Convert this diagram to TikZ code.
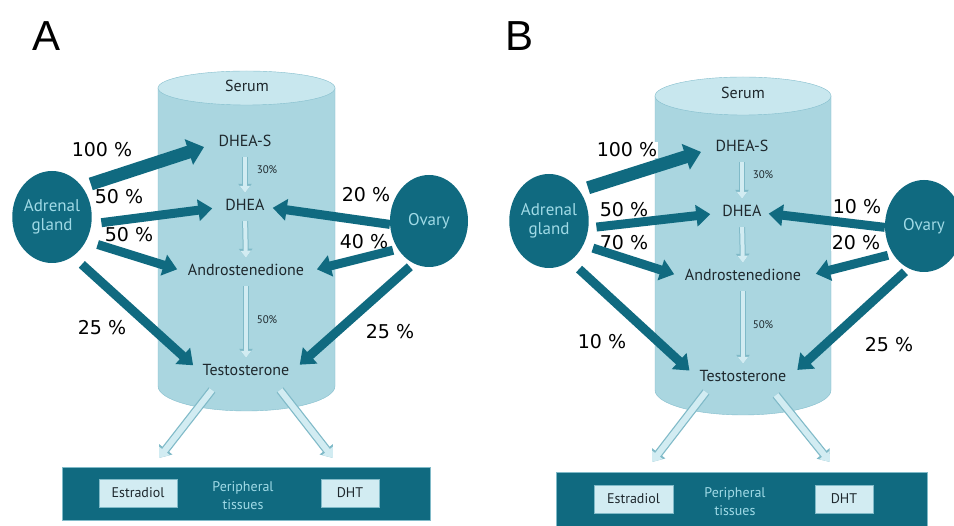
\documentclass[tikz,border=0pt]{standalone}
\usepackage{fontspec}
\setmainfont{DejaVu Sans}
\newfontfamily\lblfont{PT Sans}
\newfontfamily\headfont{Liberation Sans}
\usetikzlibrary{arrows.meta,shapes.geometric}
\definecolor{darkteal}{RGB}{16,106,128}
\definecolor{serumblue}{RGB}{170,214,224}
\definecolor{serumtop}{RGB}{200,231,238}
\definecolor{serumline}{RGB}{132,190,205}
\definecolor{palefill}{RGB}{210,236,242}
\definecolor{paleline}{RGB}{128,186,200}
\definecolor{tealtext}{RGB}{160,218,230}
\definecolor{moltext}{RGB}{30,40,45}

\begin{document}
\begin{tikzpicture}[x=1pt,y=-1pt,
  pct/.style={font=\fontsize{19}{22}\selectfont, fill=white, inner sep=1pt},
  mol/.style={font=\lblfont\fontsize{16}{18}\selectfont, text=moltext, inner sep=2pt, text height=11pt, text depth=3pt},
  small/.style={font=\lblfont\fontsize{11}{12}\selectfont, text=moltext},
  organ/.style={ellipse, fill=darkteal, inner sep=0pt, minimum width=78pt, minimum height=92pt, text=tealtext, align=center, font=\lblfont\fontsize{17}{19}\selectfont},
  bigarr/.style={draw=darkteal, line width=9pt, -{Triangle[length=14pt,width=21pt]}},
  hugearr/.style={draw=darkteal, line width=13pt, -{Triangle[length=16pt,width=26pt]}},
  hollowarr/.style={draw=palefill, line width=4pt, shorten <=5pt, shorten >=5pt, -{Triangle[length=7pt,width=10pt]},
    preaction={draw=paleline, line width=6pt, -{Triangle[length=9pt,width=13pt]}}},
  outarr/.style={draw=palefill, line width=6pt, -{Triangle[length=9pt,width=13pt]},
    preaction={draw=paleline, line width=8.5pt, -{Triangle[length=11pt,width=16pt]}}},
  tissue/.style={fill=darkteal, draw=paleline, line width=0.6pt, inner sep=0pt},
  tbox/.style={fill=palefill, draw=paleline, line width=0.8pt, inner sep=0pt, minimum height=28pt, text=moltext, font=\lblfont\fontsize{14}{15}\selectfont},
  tlabel/.style={text=tealtext, align=center, font=\lblfont\fontsize{14}{18}\selectfont}]
\useasboundingbox (0,0) rectangle (954,526);
\fill[white] (0,0) rectangle (954,526);
\clip (0,0) rectangle (954,526);

% panel labels
\node[font=\headfont\fontsize{42}{42}\selectfont] (labA) at (47,36) {A};
\node[font=\headfont\fontsize{42}{42}\selectfont] (labB) at (520,36) {B};

% serum cylinder A
\fill[serumblue] (158,88) -- (158,386) arc[start angle=180, end angle=360, x radius=88.5pt, y radius=25pt] -- (335,88) -- cycle;
\draw[serumline] (158,88) -- (158,386) arc[start angle=180, end angle=360, x radius=88.5pt, y radius=25pt] -- (335,88);
\filldraw[fill=serumtop, draw=serumline] (246.5,88) ellipse[x radius=88.5pt, y radius=17pt];

% serum cylinder B
\fill[serumblue] (655,96) -- (655,390) arc[start angle=180, end angle=360, x radius=88pt, y radius=25pt] -- (831,96) -- cycle;
\draw[serumline] (655,96) -- (655,390) arc[start angle=180, end angle=360, x radius=88pt, y radius=25pt] -- (831,96);
\filldraw[fill=serumtop, draw=serumline] (743,96) ellipse[x radius=88pt, y radius=19pt];

% molecules A
\node[mol] (serumA) at (247,88) {Serum};
\node[mol] (dheasA) at (245,143) {DHEA-S};
\node[mol] (dheaA) at (245,207) {DHEA};
\node[mol] (androA) at (246,272) {Androstenedione};
\node[mol] (testoA) at (246,372) {Testosterone};
\node[small] (convA1) at (267,170) {30\%};
\node[small] (convA2) at (267,320) {50\%};

% molecules B
\node[mol] (serumB) at (743,95) {Serum};
\node[mol] (dheasB) at (742,148) {DHEA-S};
\node[mol] (dheaB) at (742,213) {DHEA};
\node[mol] (androB) at (743,277) {Androstenedione};
\node[mol] (testoB) at (743,378) {Testosterone};
\node[small] (convB1) at (763,175) {30\%};
\node[small] (convB2) at (763,325) {50\%};

% conversions inside serum
\draw[hollowarr] (dheasA.south) -- (dheaA.north);
\draw[hollowarr] (dheaA.south) -- (androA.north);
\draw[hollowarr] (androA.south) -- (testoA.north);
\draw[hollowarr] (dheasB.south) -- (dheaB.north);
\draw[hollowarr] (dheaB.south) -- (androB.north);
\draw[hollowarr] (androB.south) -- (testoB.north);

% organs
\node[organ] (adrA) at (52,217) {Adrenal\\gland};
\node[organ] (ovA) at (429,221) {Ovary};
\node[organ, minimum height=94pt] (adrB) at (549,221) {Adrenal\\gland};
\node[organ] (ovB) at (924,226) {Ovary};

% percentages A
\node[pct] (pA1) at (102,150) {100 \%};
\node[pct] (pA2) at (119,197) {50 \%};
\node[pct] (pA3) at (129,235) {50 \%};
\node[pct] (pA4) at (102,328) {25 \%};
\node[pct] (pA5) at (366,195) {20 \%};
\node[pct] (pA6) at (364,242) {40 \%};
\node[pct] (pA7) at (390,332) {25 \%};

% percentages B
\node[pct] (pB1) at (627,150) {100 \%};
\node[pct] (pB2) at (624,210) {50 \%};
\node[pct] (pB3) at (624,243) {70 \%};
\node[pct] (pB4) at (602,342) {10 \%};
\node[pct] (pB5) at (857,207) {10 \%};
\node[pct] (pB6) at (856,243) {20 \%};
\node[pct] (pB7) at (889,345) {25 \%};

% secretion A
\draw[hugearr, shorten <=9pt, shorten >=13pt] (adrA.45) -- (dheasA.west);
\draw[bigarr, shorten <=10pt, shorten >=11pt] (adrA.-10) -- (dheaA.west);
\draw[bigarr, shorten <=12pt, shorten >=9pt] (adrA.-35) -- (androA.west);
\draw[bigarr, shorten <=12pt, shorten >=10pt] (adrA.-62) -- (testoA.west);
\draw[bigarr, shorten >=6pt] (ovA.185) -- (dheaA.east);
\draw[bigarr, shorten <=5pt, shorten >=11pt] (ovA.222) -- (androA.east);
\draw[bigarr, shorten <=5pt, shorten >=11pt] (ovA.250) -- (testoA.east);

% secretion B
\draw[hugearr, shorten <=9pt, shorten >=13pt] (adrB.45) -- (dheasB.west);
\draw[bigarr, shorten <=8pt, shorten >=10pt] (adrB.-10) -- (dheaB.west);
\draw[bigarr, shorten <=10pt, shorten >=9pt] (adrB.-35) -- (androB.west);
\draw[bigarr, shorten <=12pt, shorten >=11pt] (adrB.-62) -- (testoB.west);
\draw[bigarr, shorten >=5pt] (ovB.182) -- (dheaB.east);
\draw[bigarr, shorten <=5pt, shorten >=13pt] (ovB.222) -- (androB.east);
\draw[bigarr, shorten <=5pt, shorten >=12pt] (ovB.250) -- (testoB.east);

% peripheral tissues A
\node[tissue, minimum width=368pt, minimum height=53pt] (tisA) at (246,493.5) {};
\node[tbox, minimum width=78pt] (estA) at (138,493) {Estradiol};
\node[tbox, minimum width=58pt] (dhtA) at (350,493) {DHT};
\node[tlabel] (periA) at (243,496) {Peripheral\\tissues};

% peripheral tissues B
\node[tissue, minimum width=371pt, minimum height=55pt] (tisB) at (741.5,500) {};
\node[tbox, minimum width=79pt] (estB) at (633.5,499) {Estradiol};
\node[tbox, minimum width=58pt] (dhtB) at (844,499) {DHT};
\node[tlabel] (periB) at (735,502) {Peripheral\\tissues};

% testosterone to the tissues
\coordinate (outAl) at (212,390);
\coordinate (outAr) at (280,390);
\coordinate (inAl) at (159,458);
\coordinate (inAr) at (333,458);
\coordinate (outBl) at (706,392);
\coordinate (outBr) at (776,395);
\coordinate (inBl) at (652,462);
\coordinate (inBr) at (830,462);
\draw[outarr] (outAl) -- (inAl);
\draw[outarr] (outAr) -- (inAr);
\draw[outarr] (outBl) -- (inBl);
\draw[outarr] (outBr) -- (inBr);
\end{tikzpicture}
\end{document}
